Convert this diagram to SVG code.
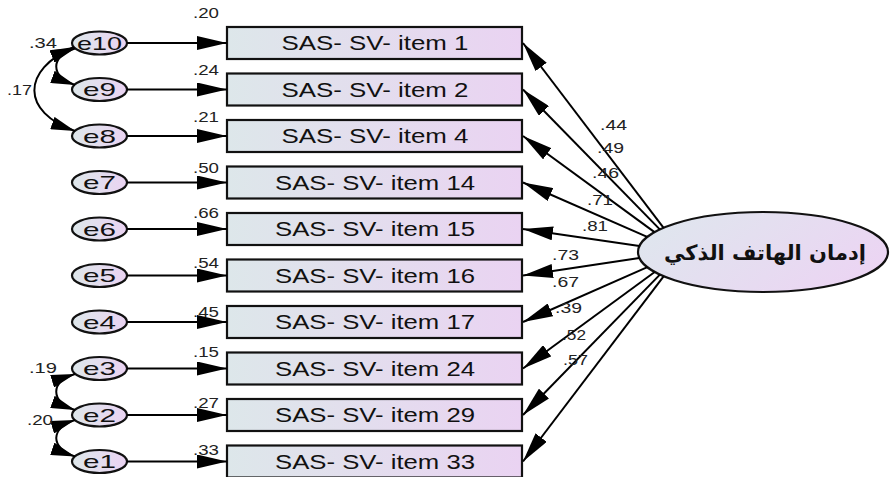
<svg xmlns="http://www.w3.org/2000/svg" width="890" height="477" viewBox="0 0 890 477">
<defs>
<linearGradient id="gBox" x1="0" y1="0" x2="1" y2="0">
<stop offset="0" stop-color="#dde7ea"/>
<stop offset="1" stop-color="#ead3f2"/>
</linearGradient>
<linearGradient id="gLat" x1="0" y1="0.3" x2="1" y2="0.7">
<stop offset="0" stop-color="#dfe6ee"/>
<stop offset="1" stop-color="#ecd4f3"/>
</linearGradient>
<marker id="arr" markerUnits="userSpaceOnUse" markerWidth="30" markerHeight="14" refX="30" refY="7" orient="auto">
<path d="M0,0 L30,7 L0,14 z" fill="#000"/>
</marker>
<marker id="arrC" markerUnits="userSpaceOnUse" markerWidth="24" markerHeight="13" refX="24" refY="6.5" orient="auto-start-reverse">
<path d="M0,0 L24,6.5 L0,13 z" fill="#000"/>
</marker>
</defs>
<style>
.box{fill:url(#gBox);stroke:#111;stroke-width:2.2}
.err{fill:url(#gBox);stroke:#111;stroke-width:2.2}
.lat{fill:url(#gLat);stroke:#111;stroke-width:2.2}
.bt{font-family:"Liberation Sans",Arial,sans-serif;font-size:20px;fill:#111;text-anchor:middle}
.et{font-family:"Liberation Sans",Arial,sans-serif;font-size:19px;fill:#111;text-anchor:middle}
.lbl{font-family:"Liberation Sans",Arial,sans-serif;font-size:15px;fill:#222}
.lt{font-family:"DejaVu Sans",sans-serif;font-size:21px;font-weight:bold;fill:#111;text-anchor:middle}
.ln{fill:none;stroke:#000;stroke-width:2;marker-end:url(#arr)}
.cv{fill:none;stroke:#000;stroke-width:2;marker-start:url(#arrC);marker-end:url(#arrC)}
</style>
<rect width="890" height="477" fill="#fff"/>

<g id="item1"><rect class="box" x="227" y="27" width="295" height="32"/><text class="bt" x="375" y="50" textLength="187" lengthAdjust="spacingAndGlyphs">SAS- SV- item 1</text></g>
<g id="item2"><rect class="box" x="227" y="73.5" width="295" height="32"/><text class="bt" x="375" y="96.5" textLength="187" lengthAdjust="spacingAndGlyphs">SAS- SV- item 2</text></g>
<g id="item4"><rect class="box" x="227" y="120" width="295" height="32"/><text class="bt" x="375" y="143" textLength="187" lengthAdjust="spacingAndGlyphs">SAS- SV- item 4</text></g>
<g id="item14"><rect class="box" x="227" y="166.5" width="295" height="32"/><text class="bt" x="375" y="189.5" textLength="200" lengthAdjust="spacingAndGlyphs">SAS- SV- item 14</text></g>
<g id="item15"><rect class="box" x="227" y="213" width="295" height="32"/><text class="bt" x="375" y="236" textLength="200" lengthAdjust="spacingAndGlyphs">SAS- SV- item 15</text></g>
<g id="item16"><rect class="box" x="227" y="259.5" width="295" height="32"/><text class="bt" x="375" y="282.5" textLength="200" lengthAdjust="spacingAndGlyphs">SAS- SV- item 16</text></g>
<g id="item17"><rect class="box" x="227" y="306" width="295" height="32"/><text class="bt" x="375" y="329" textLength="200" lengthAdjust="spacingAndGlyphs">SAS- SV- item 17</text></g>
<g id="item24"><rect class="box" x="227" y="352.5" width="295" height="32"/><text class="bt" x="375" y="375.5" textLength="200" lengthAdjust="spacingAndGlyphs">SAS- SV- item 24</text></g>
<g id="item29"><rect class="box" x="227" y="399" width="295" height="32"/><text class="bt" x="375" y="422" textLength="200" lengthAdjust="spacingAndGlyphs">SAS- SV- item 29</text></g>
<g id="item33"><rect class="box" x="227" y="445.5" width="295" height="32"/><text class="bt" x="375" y="468.5" textLength="200" lengthAdjust="spacingAndGlyphs">SAS- SV- item 33</text></g>

<g id="e10"><ellipse class="err" cx="99.5" cy="43" rx="27.5" ry="11.5"/><text class="et" x="99.5" y="49.5" textLength="45" lengthAdjust="spacingAndGlyphs">e10</text></g>
<g id="e9"><ellipse class="err" cx="99.5" cy="89.5" rx="27.5" ry="11.5"/><text class="et" x="99.5" y="96" textLength="33" lengthAdjust="spacingAndGlyphs">e9</text></g>
<g id="e8"><ellipse class="err" cx="99.5" cy="136" rx="27.5" ry="11.5"/><text class="et" x="99.5" y="142.5" textLength="33" lengthAdjust="spacingAndGlyphs">e8</text></g>
<g id="e7"><ellipse class="err" cx="99.5" cy="182.5" rx="27.5" ry="11.5"/><text class="et" x="99.5" y="189" textLength="33" lengthAdjust="spacingAndGlyphs">e7</text></g>
<g id="e6"><ellipse class="err" cx="99.5" cy="229" rx="27.5" ry="11.5"/><text class="et" x="99.5" y="235.5" textLength="33" lengthAdjust="spacingAndGlyphs">e6</text></g>
<g id="e5"><ellipse class="err" cx="99.5" cy="275.5" rx="27.5" ry="11.5"/><text class="et" x="99.5" y="282" textLength="33" lengthAdjust="spacingAndGlyphs">e5</text></g>
<g id="e4"><ellipse class="err" cx="99.5" cy="322" rx="27.5" ry="11.5"/><text class="et" x="99.5" y="328.5" textLength="33" lengthAdjust="spacingAndGlyphs">e4</text></g>
<g id="e3"><ellipse class="err" cx="99.5" cy="368.5" rx="27.5" ry="11.5"/><text class="et" x="99.5" y="375" textLength="33" lengthAdjust="spacingAndGlyphs">e3</text></g>
<g id="e2"><ellipse class="err" cx="99.5" cy="415" rx="27.5" ry="11.5"/><text class="et" x="99.5" y="421.5" textLength="33" lengthAdjust="spacingAndGlyphs">e2</text></g>
<g id="e1"><ellipse class="err" cx="99.5" cy="461.5" rx="27.5" ry="11.5"/><text class="et" x="99.5" y="468" textLength="33" lengthAdjust="spacingAndGlyphs">e1</text></g>

<g id="latent"><ellipse class="lat" cx="763" cy="252" rx="125" ry="40"/><text class="lt" x="765" y="260">إدمان الهاتف الذكي</text></g>

<g id="connectors">
<path class="ln" d="M127,43 H227"/>
<path class="ln" d="M127,89.5 H227"/>
<path class="ln" d="M127,136 H227"/>
<path class="ln" d="M127,182.5 H227"/>
<path class="ln" d="M127,229 H227"/>
<path class="ln" d="M127,275.5 H227"/>
<path class="ln" d="M127,322 H227"/>
<path class="ln" d="M127,368.5 H227"/>
<path class="ln" d="M127,415 H227"/>
<path class="ln" d="M127,461.5 H227"/>

<path class="ln" d="M663.6,227.8 L523,43"/>
<path class="ln" d="M659.8,229.4 L523,89.5"/>
<path class="ln" d="M654.5,232.1 L523,136"/>
<path class="ln" d="M647.2,236.9 L523,182.5"/>
<path class="ln" d="M639.4,246.1 L523,229"/>
<path class="ln" d="M639.4,257.9 L523,275.5"/>
<path class="ln" d="M647.4,267.2 L523,322"/>
<path class="ln" d="M654.7,272 L523,368.5"/>
<path class="ln" d="M659.9,274.6 L523,415"/>
<path class="ln" d="M663.6,276.3 L523,461.5"/>

<path class="cv" d="M75,48.5 C50,57 50,76 75,85"/>
<path class="cv" d="M74,47 C21,70 21,112 75,131"/>
<path class="cv" d="M75,374 C50,382 50,401 75,410"/>
<path class="cv" d="M75,420 C50,428 50,448 75,456.5"/>

<text class="lbl" x="193" y="18" textLength="26" lengthAdjust="spacingAndGlyphs">.20</text>
<text class="lbl" x="193" y="75" textLength="26" lengthAdjust="spacingAndGlyphs">.24</text>
<text class="lbl" x="193" y="122" textLength="26" lengthAdjust="spacingAndGlyphs">.21</text>
<text class="lbl" x="193" y="173" textLength="26" lengthAdjust="spacingAndGlyphs">.50</text>
<text class="lbl" x="193" y="218" textLength="26" lengthAdjust="spacingAndGlyphs">.66</text>
<text class="lbl" x="193" y="268" textLength="26" lengthAdjust="spacingAndGlyphs">.54</text>
<text class="lbl" x="193" y="317" textLength="26" lengthAdjust="spacingAndGlyphs">.45</text>
<text class="lbl" x="193" y="357" textLength="26" lengthAdjust="spacingAndGlyphs">.15</text>
<text class="lbl" x="193" y="408" textLength="26" lengthAdjust="spacingAndGlyphs">.27</text>
<text class="lbl" x="193" y="455" textLength="26" lengthAdjust="spacingAndGlyphs">.33</text>

<text class="lbl" x="600" y="130" textLength="27" lengthAdjust="spacingAndGlyphs">.44</text>
<text class="lbl" x="597" y="153" textLength="27" lengthAdjust="spacingAndGlyphs">.49</text>
<text class="lbl" x="592" y="178" textLength="27" lengthAdjust="spacingAndGlyphs">.46</text>
<text class="lbl" x="587" y="205" textLength="26" lengthAdjust="spacingAndGlyphs">.71</text>
<text class="lbl" x="582" y="231" textLength="26" lengthAdjust="spacingAndGlyphs">.81</text>
<text class="lbl" x="552" y="260" textLength="27" lengthAdjust="spacingAndGlyphs">.73</text>
<text class="lbl" x="552" y="287" textLength="27" lengthAdjust="spacingAndGlyphs">.67</text>
<text class="lbl" x="555" y="313" textLength="27" lengthAdjust="spacingAndGlyphs">.39</text>
<text class="lbl" x="562" y="340" textLength="24" lengthAdjust="spacingAndGlyphs">.52</text>
<text class="lbl" x="563" y="365" textLength="25" lengthAdjust="spacingAndGlyphs">.57</text>

<text class="lbl" x="29" y="48" textLength="28" lengthAdjust="spacingAndGlyphs">.34</text>
<text class="lbl" x="7" y="95" textLength="25" lengthAdjust="spacingAndGlyphs">.17</text>
<text class="lbl" x="29" y="373" textLength="28" lengthAdjust="spacingAndGlyphs">.19</text>
<text class="lbl" x="27" y="425" textLength="26" lengthAdjust="spacingAndGlyphs">.20</text>
</g>
</svg>
